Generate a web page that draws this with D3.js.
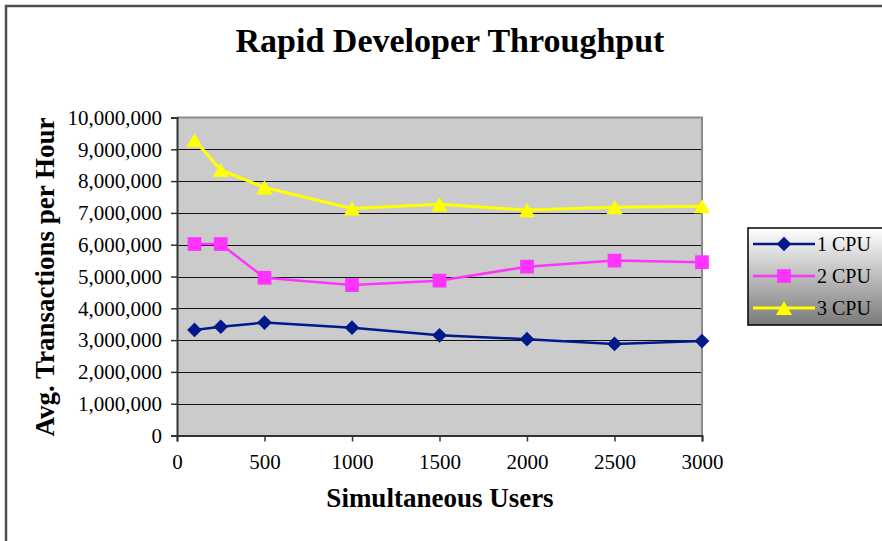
<!DOCTYPE html>
<html><head><meta charset="utf-8">
<script src="https://cdn.jsdelivr.net/npm/d3@7"></script>
<style>body{margin:0;background:#fff}svg{display:block}text{font-family:"Liberation Serif","DejaVu Serif",serif}</style>
</head><body><svg id="c" width="882" height="541"></svg>
<script>
const users = [100, 250, 500, 1000, 1500, 2000, 2500, 3000];
const cpu1 = [3320000, 3420000, 3550000, 3390000, 3150000, 3030000, 2880000, 2970000];
const cpu2 = [6020000, 6020000, 4960000, 4730000, 4870000, 5310000, 5500000, 5450000];
const cpu3 = [9290000, 8350000, 7800000, 7140000, 7270000, 7090000, 7180000, 7210000];
const seriesNames = ["1 CPU", "2 CPU", "3 CPU"];
const xTicks = [0, 500, 1000, 1500, 2000, 2500, 3000];
const yTicks = [0,1000000,2000000,3000000,4000000,5000000,6000000,7000000,8000000,9000000,10000000];
const title = "Rapid Developer Throughput";
const xTitle = "Simultaneous Users";
const yTitle = "Avg. Transactions per Hour";

const svg = d3.select("#c");
const L = 177, R = 702, T = 117.5, B = 435.5;
const x = d3.scaleLinear().domain([0, 3000]).range([L, R]);
const y = d3.scaleLinear().domain([0, 10000000]).range([B, T]);

// outer frame
svg.append("path").attr("d","M6,545 L6,6 L890,6").attr("fill","none").attr("stroke","#505050").attr("stroke-width",2.5);

svg.append("text").attr("x",450).attr("y",52).attr("text-anchor","middle")
  .attr("font-size",34).attr("font-weight","bold").text(title);

// plot area
svg.append("rect").attr("x",L).attr("y",T).attr("width",R-L).attr("height",B-T).attr("fill","#cbcbcb");
svg.append("g").selectAll("line").data(yTicks.slice(1,-1)).join("line")
  .attr("x1",L).attr("x2",R).attr("y1",d=>Math.round(y(d))+0.5).attr("y2",d=>Math.round(y(d))+0.5)
  .attr("stroke","#111").attr("stroke-width",1.2);
svg.append("path").attr("d",`M${L},${T} L${R},${T} L${R},${B}`).attr("fill","none").attr("stroke","#8c8c8c").attr("stroke-width",2);

const fmt = d3.format(",");
const ya = svg.append("g").attr("transform",`translate(${L},0)`)
  .call(d3.axisLeft(y).tickValues(yTicks).tickFormat(d=>fmt(d)).tickSize(6).tickPadding(9));
const xa = svg.append("g").attr("transform",`translate(0,${B})`)
  .call(d3.axisBottom(x).tickValues(xTicks).tickFormat(d3.format("d")).tickSize(6).tickPadding(13));
[ya, xa].forEach(a=>{
  a.attr("font-family",null);
  a.select(".domain").attr("stroke","#333").attr("stroke-width",2);
  a.selectAll(".tick line").attr("stroke","#333").attr("stroke-width",1.5);
  a.selectAll("text").attr("font-size",21).attr("fill","#000");
});

svg.append("text").attr("x",440).attr("y",507).attr("text-anchor","middle")
  .attr("font-size",27).attr("font-weight","bold").text(xTitle);
svg.append("text").attr("transform","translate(54,277) rotate(-90)").attr("text-anchor","middle")
  .attr("font-size",27).attr("font-weight","bold").text(yTitle);

const colors = ["#001a8c", "#ff33ff", "#ffff00"];
const widths = [2.5, 2.5, 3];
const data = [cpu1, cpu2, cpu3];
const line = d3.line().x((d,i)=>x(users[i])).y(d=>y(d));
const diamond = { draw(ctx, size){ const r = Math.sqrt(size/2); ctx.moveTo(0,-r); ctx.lineTo(r,0); ctx.lineTo(0,r); ctx.lineTo(-r,0); ctx.closePath(); } };
const triangle = { draw(ctx, size){ const s = Math.sqrt(size/0.4375); const h = s*0.875; ctx.moveTo(0,-h/2); ctx.lineTo(s/2,h/2); ctx.lineTo(-s/2,h/2); ctx.closePath(); } };
const sym = [diamond, d3.symbolSquare, triangle];
const sizes = [108, 188, 115];

data.forEach((vals,k)=>{
  svg.append("path").datum(vals).attr("d",line).attr("fill","none")
    .attr("stroke",colors[k]).attr("stroke-width",widths[k]);
  svg.append("g").selectAll("path").data(vals).join("path")
    .attr("transform",(d,i)=>`translate(${x(users[i])},${y(d)})`)
    .attr("d",d3.symbol().type(sym[k]).size(sizes[k])).attr("fill",colors[k]);
});

// legend
const defs = svg.append("defs");
const g = defs.append("linearGradient").attr("id","lg").attr("x1",0).attr("x2",0).attr("y1",0).attr("y2",1);
g.append("stop").attr("offset","0%").attr("stop-color","#ffffff");
g.append("stop").attr("offset","100%").attr("stop-color","#7a7a7a");
svg.append("rect").attr("x",748).attr("y",228).attr("width",140).attr("height",97)
  .attr("fill","url(#lg)").attr("stroke","#000").attr("stroke-width",1.5);
seriesNames.forEach((n,k)=>{
  const yy = 244 + k*32;
  svg.append("line").attr("x1",753).attr("x2",815).attr("y1",yy).attr("y2",yy)
    .attr("stroke",colors[k]).attr("stroke-width",widths[k]);
  svg.append("path").attr("transform",`translate(784,${yy})`)
    .attr("d",d3.symbol().type(sym[k]).size(sizes[k])).attr("fill",colors[k]);
  svg.append("text").attr("x",817).attr("y",yy+7).attr("font-size",20).text(n);
});
</script></body></html>
